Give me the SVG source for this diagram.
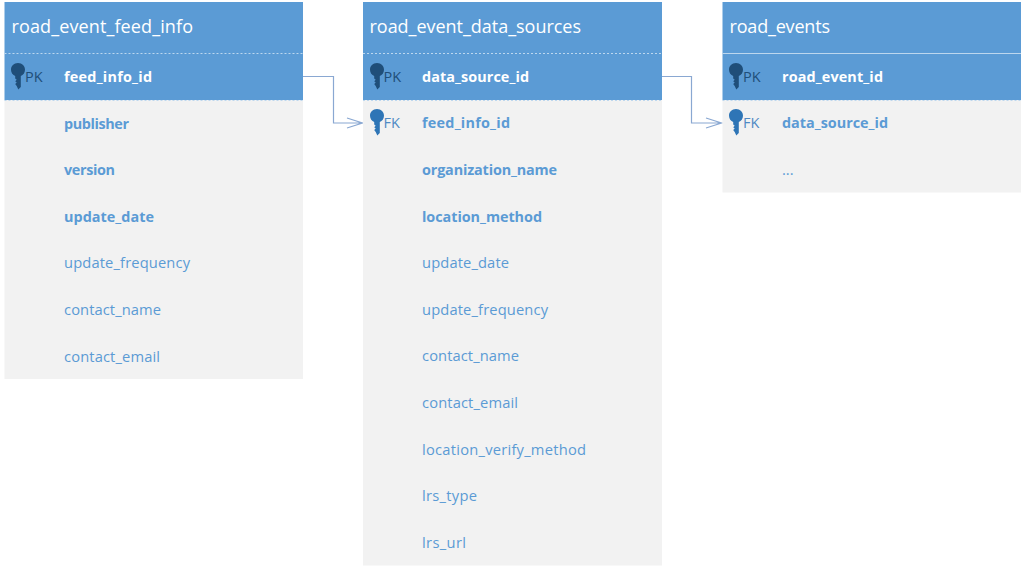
<svg xmlns="http://www.w3.org/2000/svg" width="1023" height="567" viewBox="0 0 1023 567">
<style>
text{font-family:"Open Sans","Noto Sans","Liberation Sans",sans-serif;font-size:14.7px;fill:#5b9bd5}
.t{font-size:18px;fill:#fff}
.b{font-weight:700;font-size:14.4px}
.w{font-weight:700;font-size:14.4px;fill:#fff}
.pk{fill:#1f4e79}
.fk{fill:#2e75b6}
.kl{font-size:14.5px;fill:#4f8ac4}
.klp{font-size:14.5px;fill:#1f4e79}
.hd{fill:#5b9bd5}
.bd{fill:#f2f2f2}
.sep{stroke:#bdd7ee;stroke-width:1;stroke-dasharray:2 2;fill:none}
.c{fill:none;stroke:#8aa8d2;stroke-width:1.200}
</style>
<defs>
<path id="key" d="M0,-14C-4.200,-14 -7,-11 -7,-7.300C-7,-4.300 -5.200,-2 -2.800,-1L-2.800,1.500L-1.300,2.800L-2.800,4.200L-1.300,5.500L-2.800,7L-1.300,9L0.300,12.500L2.800,10L2.800,-1C5.200,-2 7,-4.300 7,-7.300C7,-11 4.200,-14 0,-14Z"/>
</defs>
<g id="connectors">
<path class="c" d="M303 76.500H333.500V123H362.500M347 118L362.500 123L347 128"/>
<path class="c" d="M662 76.500H691.500V123H721.500M706 118L721.500 123L706 128"/>
</g>
<g id="road_event_feed_info">
<rect class="bd" x="4.500" y="100" width="298.500" height="279"/>
<rect class="hd" x="4.500" y="2" width="298.500" height="98"/>
<path class="sep" d="M4.500 53.500H303M4.500 100.500H303"/>
<text class="t" x="11.500" y="33" textLength="181.500">road_event_feed_info</text>
<use href="#key" class="pk" x="18" y="77"/>
<text class="klp" x="25" y="82">PK</text>
<text class="w" x="64" y="82" textLength="88">feed_info_id</text>
<text class="b" x="64" y="129" textLength="65">publisher</text>
<text class="b" x="64" y="175" textLength="51">version</text>
<text class="b" x="64" y="222" textLength="90">update_date</text>
<text x="64" y="268" textLength="126">update_frequency</text>
<text x="64" y="315" textLength="97">contact_name</text>
<text x="64" y="362" textLength="96">contact_email</text>
</g>
<g id="road_event_data_sources">
<rect class="bd" x="363" y="100" width="299" height="465.500"/>
<rect class="hd" x="363" y="2" width="299" height="98"/>
<path class="sep" d="M363 53.500H662M363 100.500H662"/>
<text class="t" x="369.500" y="33" textLength="211.500">road_event_data_sources</text>
<use href="#key" class="pk" x="377" y="77"/>
<text class="klp" x="383.500" y="82">PK</text>
<text class="w" x="422" y="82" textLength="107">data_source_id</text>
<use href="#key" class="fk" x="377" y="123"/>
<text class="kl" x="383.500" y="128">FK</text>
<text class="b" x="422" y="128" textLength="88">feed_info_id</text>
<text class="b" x="422" y="175" textLength="135">organization_name</text>
<text class="b" x="422" y="222" textLength="120">location_method</text>
<text x="422" y="268" textLength="87">update_date</text>
<text x="422" y="315" textLength="126">update_frequency</text>
<text x="422" y="361" textLength="97">contact_name</text>
<text x="422" y="408" textLength="96">contact_email</text>
<text x="422" y="455" textLength="164">location_verify_method</text>
<text x="422" y="501" textLength="55">lrs_type</text>
<text x="422" y="548" textLength="44">lrs_url</text>
</g>
<g id="road_events">
<rect class="bd" x="722.500" y="100" width="298.500" height="92.500"/>
<rect class="hd" x="722.500" y="2" width="298.500" height="98"/>
<path d="M722.500 53.500H1021" stroke="#bdd7ee" fill="none"/>
<path class="sep" d="M722.500 100.500H1021"/>
<text class="t" x="729.500" y="33" textLength="100.500">road_events</text>
<use href="#key" class="pk" x="736" y="77"/>
<text class="klp" x="743" y="82">PK</text>
<text class="w" x="782" y="82" textLength="101">road_event_id</text>
<use href="#key" class="fk" x="736" y="123"/>
<text class="kl" x="743" y="128">FK</text>
<text class="b" x="782" y="128" textLength="106">data_source_id</text>
<text x="782" y="175">...</text>
</g>
</svg>
